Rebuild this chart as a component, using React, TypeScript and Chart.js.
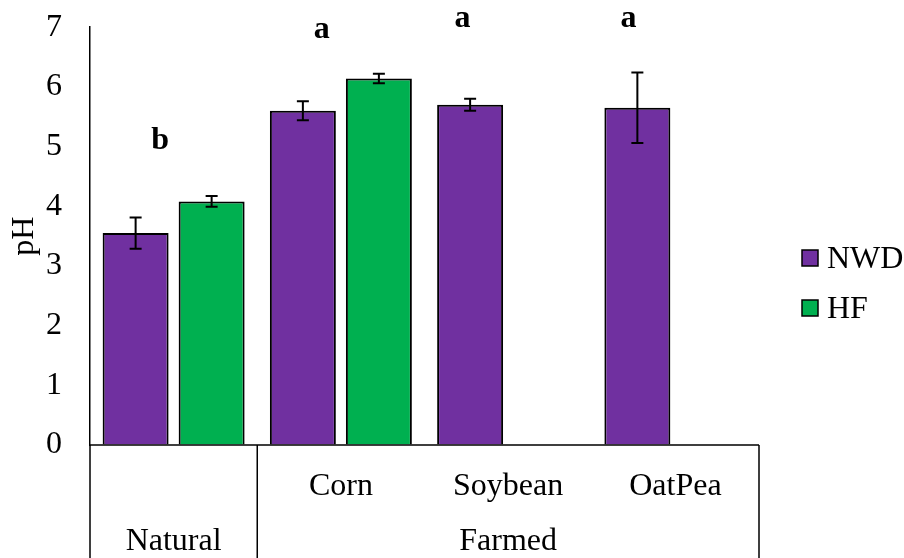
import React, { useEffect, useRef } from 'react';
import { Chart, registerables } from 'chart.js';

Chart.register(...registerables);

const categories = ['', 'Corn', 'Soybean', 'OatPea'];
const groupLabels = ['Natural', 'Farmed'];
const groupStart = [0, 1];
const groupEnd = [0, 3];
const seriesNames = ['NWD', 'HF'];
const nwdValues = [3.55, 5.6, 5.7, 5.65];
const nwdErrors = [0.26, 0.16, 0.1, 0.59];
const hfValues: (number | null)[] = [4.08, 6.14, null, null];
const hfErrors: (number | null)[] = [0.09, 0.08, null, null];
const letters = ['b', 'a', 'a', 'a'];
const letterX = [-0.08, 0.885, 1.727, 2.72];
const letterY = [4.96, 6.82, 7.0, 7.0];
const yMin = 0;
const yMax = 7;
const yStep = 1;

const FONT = "'Liberation Serif', 'Times New Roman', serif";
const FS = 32;
const PURPLE = '#7030A0';
const GREEN = '#00B050';
const colors = [PURPLE, GREEN];
const errorSets = [nwdErrors, hfErrors];

const overlay = {
  id: 'overlay',
  afterDatasetsDraw(chart: any) {
    const ctx = chart.ctx as CanvasRenderingContext2D;
    const xs = chart.scales.x;
    const ys = chart.scales.y;
    const area = chart.chartArea;
    ctx.save();

    // error bars
    chart.data.datasets.forEach((ds: any, di: number) => {
      const meta = chart.getDatasetMeta(di);
      const errs = errorSets[di];
      meta.data.forEach((bar: any, i: number) => {
        const v = ds.data[i];
        const e = errs[i];
        if (v == null || e == null) return;
        const cx = bar.x;
        const yt = ys.getPixelForValue(v + e);
        const yb = ys.getPixelForValue(v - e);
        ctx.strokeStyle = '#000';
        ctx.lineWidth = 2;
        ctx.beginPath();
        ctx.moveTo(cx, yt);
        ctx.lineTo(cx, yb);
        ctx.moveTo(cx - 6, yt);
        ctx.lineTo(cx + 6, yt);
        ctx.moveTo(cx - 6, yb);
        ctx.lineTo(cx + 6, yb);
        ctx.stroke();
      });
    });

    // significance letters
    ctx.fillStyle = '#000';
    ctx.font = `bold ${FS}px ${FONT}`;
    ctx.textAlign = 'center';
    ctx.textBaseline = 'alphabetic';
    letters.forEach((l, i) => {
      ctx.fillText(l, xs.getPixelForValue(letterX[i]), ys.getPixelForValue(letterY[i]));
    });

    // multi-level category table
    const bottom = chart.height;
    ctx.strokeStyle = '#000';
    ctx.lineWidth = 1.5;
    ctx.beginPath();
    ctx.moveTo(area.left, area.bottom);
    ctx.lineTo(area.right, area.bottom);
    ctx.moveTo(area.left, area.bottom);
    ctx.lineTo(area.left, bottom);
    ctx.moveTo(area.right, area.bottom);
    ctx.lineTo(area.right, bottom);
    for (let g = 1; g < groupStart.length; g++) {
      const bx = xs.getPixelForValue(groupStart[g] - 0.5);
      ctx.moveTo(bx, area.bottom);
      ctx.lineTo(bx, bottom);
    }
    ctx.stroke();

    ctx.font = `${FS}px ${FONT}`;
    ctx.textAlign = 'center';
    categories.forEach((c, i) => {
      if (!c) return;
      ctx.fillText(c, xs.getPixelForValue(i), area.bottom + 50);
    });
    groupLabels.forEach((g, i) => {
      const cx = (xs.getPixelForValue(groupStart[i]) + xs.getPixelForValue(groupEnd[i])) / 2;
      ctx.fillText(g, cx, area.bottom + 105);
    });

    // y title
    ctx.save();
    ctx.translate(33, (area.top + area.bottom) / 2);
    ctx.rotate(-Math.PI / 2);
    ctx.textAlign = 'center';
    ctx.fillText('pH', 0, 0);
    ctx.restore();

    // legend
    ctx.textAlign = 'left';
    seriesNames.forEach((n, i) => {
      const top = 250 + i * 50;
      ctx.fillStyle = colors[i];
      ctx.fillRect(802, top, 16, 16);
      ctx.strokeStyle = '#000';
      ctx.lineWidth = 1.5;
      ctx.strokeRect(802, top, 16, 16);
      ctx.fillStyle = '#000';
      ctx.fillText(n, 827, top + 18);
    });

    ctx.restore();
  },
};

export default function App() {
  const ref = useRef<HTMLCanvasElement | null>(null);
  useEffect(() => {
    document.body.style.margin = '0';
    if (!ref.current) return;
    const chart = new Chart(ref.current, {
      type: 'bar',
      data: {
        labels: categories,
        datasets: [
          {
            label: seriesNames[0],
            data: nwdValues,
            backgroundColor: PURPLE,
            borderColor: '#000',
            borderWidth: 2,
          },
          {
            label: seriesNames[1],
            data: hfValues,
            backgroundColor: GREEN,
            borderColor: '#000',
            borderWidth: 2,
          },
        ],
      },
      options: {
        responsive: false,
        animation: false,
        devicePixelRatio: 1,
        layout: { padding: { left: 0, right: 145, top: 0, bottom: 113 } },
        plugins: { legend: { display: false }, tooltip: { enabled: false } },
        datasets: { bar: { categoryPercentage: 0.909, barPercentage: 0.868 } },
        scales: {
          x: { display: false, offset: true },
          y: {
            min: yMin,
            max: yMax,
            ticks: { stepSize: yStep, color: '#000', font: { family: FONT, size: FS }, padding: 8 },
            grid: {
              display: true,
              drawOnChartArea: false,
              drawTicks: true,
              tickLength: 20,
              color: 'rgba(0,0,0,0)',
            },
            border: { display: true, color: '#000', width: 1.5 },
            afterFit: (s: any) => {
              s.width = 90;
            },
          },
        },
      },
      plugins: [overlay],
    } as any);
    return () => chart.destroy();
  }, []);
  return <canvas ref={ref} width={904} height={558} style={{ display: 'block' }} />;
}
